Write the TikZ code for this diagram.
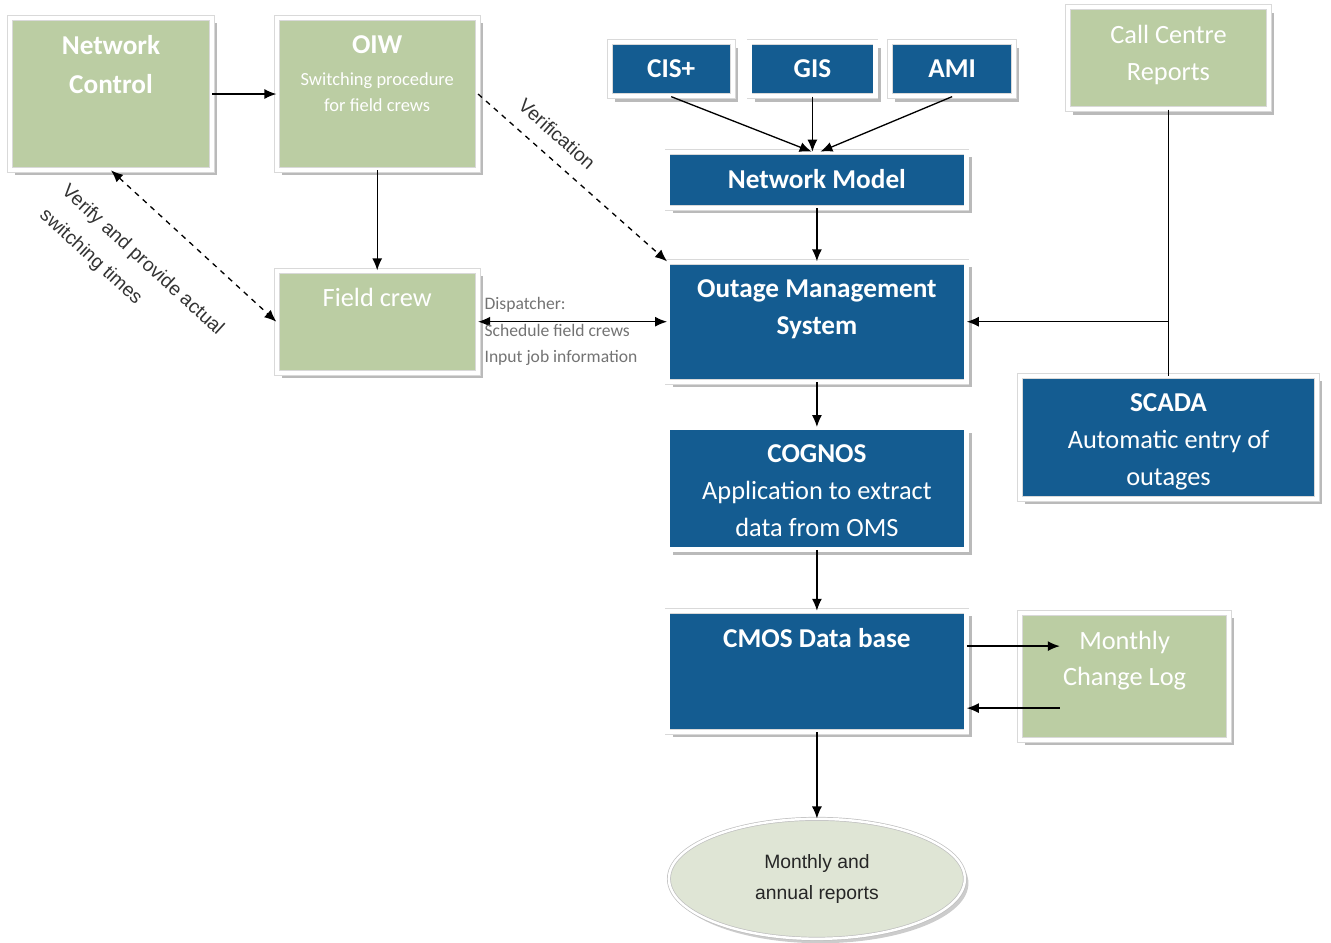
\documentclass[tikz,border=0pt]{standalone}
\usepackage{fontspec}
\setmainfont{Carlito}
\newfontfamily\arialfont{Liberation Sans}
\usetikzlibrary{positioning,shapes.geometric,shadows,arrows.meta}
\definecolor{boxgreen}{RGB}{187,205,163}
\definecolor{boxblue}{RGB}{20,92,145}
\definecolor{ovalfill}{RGB}{223,229,213}
\newcommand{\headfont}{\fontsize{15.5}{21}\selectfont\bfseries}
\newcommand{\bodyfont}{\fontsize{15}{21}\selectfont\mdseries}
\newcommand{\smallfont}{\fontsize{10.5}{14}\selectfont\mdseries}
\newcommand{\topbox}[3]{\parbox[c][#2][t]{#1}{\centering\vspace*{10pt}#3\par}}

\begin{document}
\begin{tikzpicture}[
    >={Latex[length=2.4mm, width=2mm]},
    line width=0.75pt,
    framed/.style={
        draw=black!15, double=white, double distance=2.4pt, line width=0.4pt,
        drop shadow={shadow xshift=3pt, shadow yshift=-3pt, fill=black!45, opacity=0.6},
        text=white, inner sep=0pt
      },
    greenbox/.style={framed, fill=boxgreen},
    bluebox/.style={framed, fill=boxblue},
    oval/.style={
        ellipse, fill=ovalfill, draw=black!25, double=white, double distance=1.4pt, line width=0.4pt,
        drop shadow={shadow xshift=2pt, shadow yshift=-2.5pt, fill=black!40, opacity=0.5},
        minimum width=5.92cm, minimum height=2.4cm, inner sep=0pt, align=center,
        font=\arialfont\fontsize{11}{18}\selectfont, text=black!85
      },
    lbl/.style={font=\arialfont\fontsize{11}{18.5}\selectfont, text=black!80},
    dispatch/.style={font=\fontsize{10}{15}\selectfont, text=black!55, align=left},
  ]
  \useasboundingbox (0,0) rectangle (26.62,-18.84);

  % left column
  \node[greenbox] (nc) at (2.22,-1.88) {\topbox{4.04cm}{3.04cm}{\headfont Network\\[1pt]Control}};
  \node[greenbox, right=1.28cm of nc] (oiw) {\topbox{4.02cm}{3.04cm}{\headfont OIW\\[4pt]\smallfont Switching procedure\\[1pt]for field crews}};
  \node[greenbox, below=2cm of oiw] (fc) {\topbox{4.02cm}{2.04cm}{\bodyfont Field crew}};

  % centre column
  \node[bluebox, right=3.78cm of fc] (oms) {\topbox{5.98cm}{2.4cm}{\headfont Outage Management\\System}};
  \node[bluebox, above=1.06cm of oms] (nm) {\topbox{5.98cm}{1.12cm}{\headfont Network Model}};
  \node[bluebox, above=1.1cm of nm, xshift=-0.09cm] (gis) {\topbox{2.52cm}{1.08cm}{\headfont GIS}};
  \node[bluebox, left=0.32cm of gis] (cis) {\topbox{2.46cm}{1.08cm}{\headfont CIS+}};
  \node[bluebox, right=0.28cm of gis] (ami) {\topbox{2.48cm}{1.08cm}{\headfont AMI}};
  \node[bluebox, below=0.9cm of oms] (cognos) {\topbox{5.98cm}{2.44cm}{\headfont COGNOS\\\bodyfont Application to extract\\data from OMS}};
  \node[bluebox, below=1.22cm of cognos] (cmos) {\topbox{5.98cm}{2.42cm}{\headfont CMOS Data base}};
  \node[oval, below=1.72cm of cmos] (reports) {Monthly and\\annual reports};

  % right column
  \node[greenbox, right=1.06cm of cmos, yshift=-0.1cm] (mcl) {\topbox{4.18cm}{2.54cm}{\bodyfont Monthly\\Change Log}};
  \node[bluebox] (scada) at (23.37,-8.75) {\topbox{5.94cm}{2.46cm}{\headfont SCADA\\\bodyfont Automatic entry of\\outages}};
  \node[greenbox, above=5.32cm of scada] (cc) {\topbox{4.02cm}{2.04cm}{\bodyfont Call Centre\\Reports}};

  \coordinate (ccjoin) at (cc.south |- oms.east);
  \coordinate (logtop) at ([xshift=0.8cm, yshift=0.61cm]mcl.west);
  \coordinate (logbot) at ([xshift=0.8cm, yshift=-0.63cm]mcl.west);

  % connectors
  \draw[->] (nc) -- (oiw);
  \draw[->] (oiw) -- (fc);
  \draw[<->, dashed] (nc.south) -- node[pos=0.375, sloped, below=17pt, lbl, align=left] {Verify and provide actual\\switching times} (fc.west);
  \draw[->, dashed] (oiw.east) -- node[pos=0.34, sloped, above=5pt, lbl] {Verification} (oms.north west);
  \draw[<->] (fc) -- node[pos=0, anchor=west, yshift=-0.2cm, dispatch] {Dispatcher:\\Schedule field crews\\Input job information} (oms);
  \draw[->] (cis.south) -- ([xshift=-3pt]nm.north);
  \draw[->] (gis.south) -- (gis.south |- nm.north);
  \draw[->] (ami.south) -- ([xshift=2pt]nm.north);
  \draw[->] (nm) -- (oms);
  \draw (cc.south) -- (scada.north);
  \draw[->] (ccjoin) -- (oms.east);
  \draw[->] (oms) -- (cognos);
  \draw[->] (cognos) -- (cmos);
  \draw[->] (cmos.east |- logtop) -- (logtop);
  \draw[->] (logbot) -- (cmos.east |- logbot);
  \draw[->] (cmos) -- (reports);
\end{tikzpicture}
\end{document}
